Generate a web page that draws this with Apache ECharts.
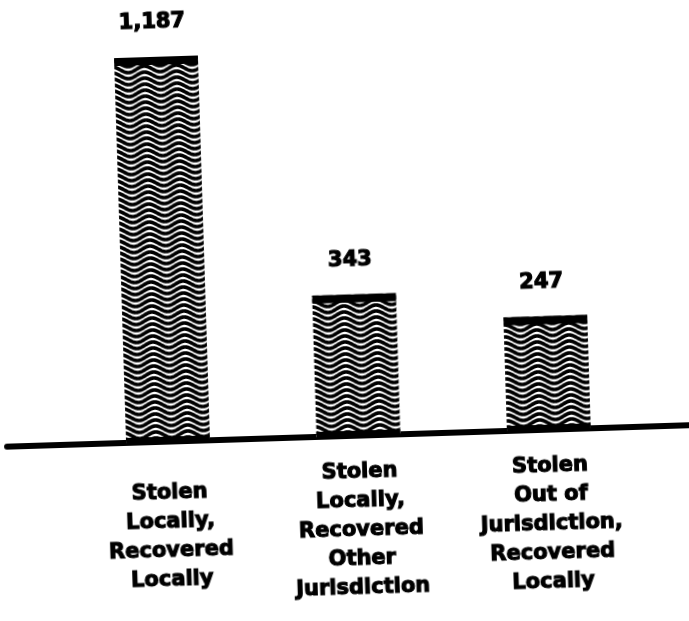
<!DOCTYPE html>
<html>
<head>
<meta charset="utf-8">
<script src="https://cdn.jsdelivr.net/npm/echarts@6/dist/echarts.min.js"></script>
<style>
    html, body { margin: 0; padding: 0; background: #fff; overflow: hidden; }
    /* the scanned original sits slightly askew */
    #chart { width: 689px; height: 621px; transform: rotate(-1.8deg); }
</style>
</head>
<body>
<div id="chart"></div>
<script type="text/javascript">
    var categories = [
        'Stolen\nLocally,\nRecovered\nLocally',
        'Stolen\nLocally,\nRecovered\nOther\nJurisdiction',
        'Stolen\nOut of\nJurisdiction,\nRecovered\nLocally'
    ];
    var values = [1187, 343, 247];
    // the drawing's bars do not start at zero
    var axisMin = -150;
    var axisMax = 1300;

    var font = 'DejaVu Sans';

    function makeWave() {
        var c = document.createElement('canvas');
        c.width = 32;
        c.height = 6;
        var ctx = c.getContext('2d');
        ctx.fillStyle = '#fff';
        ctx.fillRect(0, 0, c.width, c.height);
        ctx.strokeStyle = '#000';
        ctx.lineWidth = 3.6;
        // run each stroke past the tile edges so the tiles join without seams
        for (var k = -1; k <= 2; k++) {
            ctx.beginPath();
            for (var x = -8; x <= 40; x += 0.5) {
                var y = k * 6 + 3 + 3 * Math.sin(2 * Math.PI * x / 32);
                if (x === -8) ctx.moveTo(x, y); else ctx.lineTo(x, y);
            }
            ctx.stroke();
        }
        return c;
    }
    var wave = { image: makeWave(), repeat: 'repeat' };

    var chart = echarts.init(document.getElementById('chart'));
    chart.setOption({
        animation: false,
        backgroundColor: '#fff',
        grid: [
            { left: 68.75, right: 48.75, top: 18.4, bottom: 184 },
            { left: 3, right: 0, top: 420, bottom: 185 }
        ],
        xAxis: [{
            type: 'category',
            data: categories,
            axisLine: { show: false },
            axisTick: { show: false },
            axisLabel: {
                margin: 94,
                verticalAlign: 'middle',
                lineHeight: 29,
                color: '#000',
                fontFamily: font,
                fontWeight: 'bold',
                fontSize: 21,
                textBorderColor: '#000',
                textBorderWidth: 1.1
            }
        }, {
            type: 'value',
            gridIndex: 1,
            min: 0,
            max: 1,
            axisLine: { show: true, lineStyle: { color: '#000', width: 6 } },
            axisTick: { show: false },
            axisLabel: { show: false },
            splitLine: { show: false }
        }],
        yAxis: [{
            type: 'value',
            min: axisMin,
            max: axisMax,
            show: false
        }, {
            type: 'value',
            gridIndex: 1,
            show: false
        }],
        series: [{
            type: 'custom',
            data: values.map(function (v, i) { return [i, v]; }),
            encode: { x: 0, y: 1 },
            renderItem: function (params, api) {
                var top = api.coord([api.value(0), api.value(1)]);
                var base = api.coord([api.value(0), axisMin]);
                var w = api.size([1, 0])[0] * 0.44;
                var x = top[0] - w / 2;
                return {
                    type: 'group',
                    children: [
                        { type: 'rect', shape: { x: x, y: top[1], width: w, height: base[1] - top[1] }, style: { fill: wave } },
                        { type: 'rect', shape: { x: x, y: top[1], width: w, height: 8 }, style: { fill: '#000' } },
                        { type: 'rect', shape: { x: x, y: base[1] - 6, width: w, height: 6 }, style: { fill: '#000' } },
                        {
                            type: 'text',
                            x: top[0] - 3,
                            y: top[1] - 34,
                            style: {
                                text: api.value(1).toLocaleString('en-US'),
                                fill: '#000',
                                stroke: '#000',
                                lineWidth: 1.2,
                                fontFamily: font,
                                fontWeight: 'bold',
                                fontSize: 21,
                                align: 'center',
                                verticalAlign: 'middle'
                            }
                        }
                    ]
                };
            }
        }]
    });
</script>
</body>
</html>
